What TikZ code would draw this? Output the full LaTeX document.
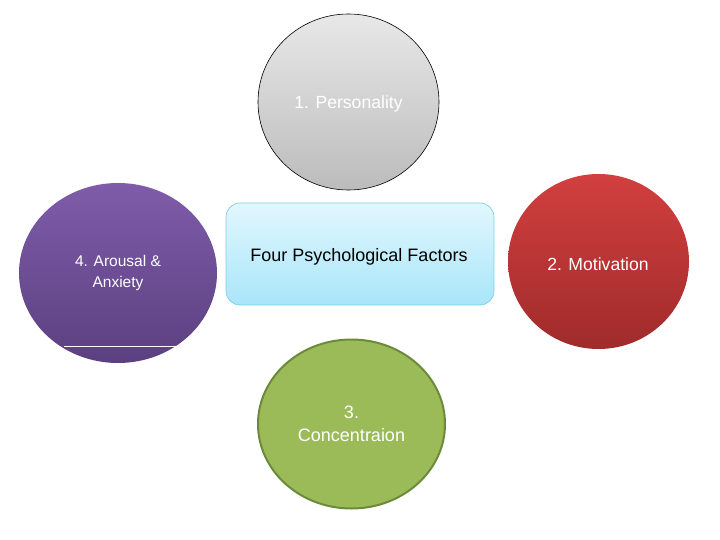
\documentclass[tikz,border=0pt]{standalone}
\usepackage{fontspec}
\setmainfont{Liberation Sans}
\usetikzlibrary{shapes.geometric}
\definecolor{grayT}{HTML}{E8E8E8}
\definecolor{grayB}{HTML}{BCBCBC}
\definecolor{redT}{HTML}{D23F3F}
\definecolor{redB}{HTML}{A02B2B}
\definecolor{purT}{HTML}{7F5CAA}
\definecolor{purB}{HTML}{5B4080}
\definecolor{grnF}{HTML}{9BBB59}
\definecolor{grnD}{HTML}{6B8B3A}
\definecolor{boxT}{HTML}{E2F7FD}
\definecolor{boxB}{HTML}{A8E6F9}
\definecolor{boxD}{HTML}{7CCFEA}
\tikzset{
  circ/.style={ellipse, inner sep=0pt, text=white, align=center}
}
\begin{document}
\begin{tikzpicture}[x=1pt,y=-1pt]
\useasboundingbox (0,0) rectangle (720,540);
% 1. Personality
\node[circ, draw=black, line width=0.6pt, top color=grayT, bottom color=grayB,
  minimum width=181pt, minimum height=176pt, font=\fontsize{17.6}{20}\selectfont] (pers) at (348.5,102) {};
\node[text=white, font=\fontsize{17.6}{20}\selectfont] (persT) at (348.5,104) {1. Personality};
% 4. Arousal
\node[circ, top color=purT, bottom color=purB,
  minimum width=198pt, minimum height=180pt, font=\fontsize{15.5}{20.5}\selectfont] (arou) at (118,273) {4. Arousal \&\\Anxiety};
\coordinate (lnA) at (64,346);
\coordinate (lnB) at (176,346);
\draw[white, line width=0.8pt] (lnA) -- (lnB);
% center box
\node[draw=boxD, line width=0.7pt, rounded corners=14pt, top color=boxT, bottom color=boxB,
  minimum width=268pt, minimum height=102pt, inner sep=0pt] (ctr) at (360,254) {};
\node[font=\fontsize{18}{20}\selectfont, text=black] (ctrT) at (359,257) {Four Psychological Factors};
% 2. Motivation
\node[circ, top color=redT, bottom color=redB,
  minimum width=181pt, minimum height=175pt] (moti) at (598.5,261.5) {};
\node[text=white, font=\fontsize{17.6}{20}\selectfont] (motiT) at (598,264) {2. Motivation};
% 3. Concentraion
\node[circ, draw=grnD, line width=2pt, fill=grnF,
  minimum width=187pt, minimum height=169pt, font=\fontsize{18}{23}\selectfont] (conc) at (351.5,424) {3.\\Concentraion};
\end{tikzpicture}
\end{document}
